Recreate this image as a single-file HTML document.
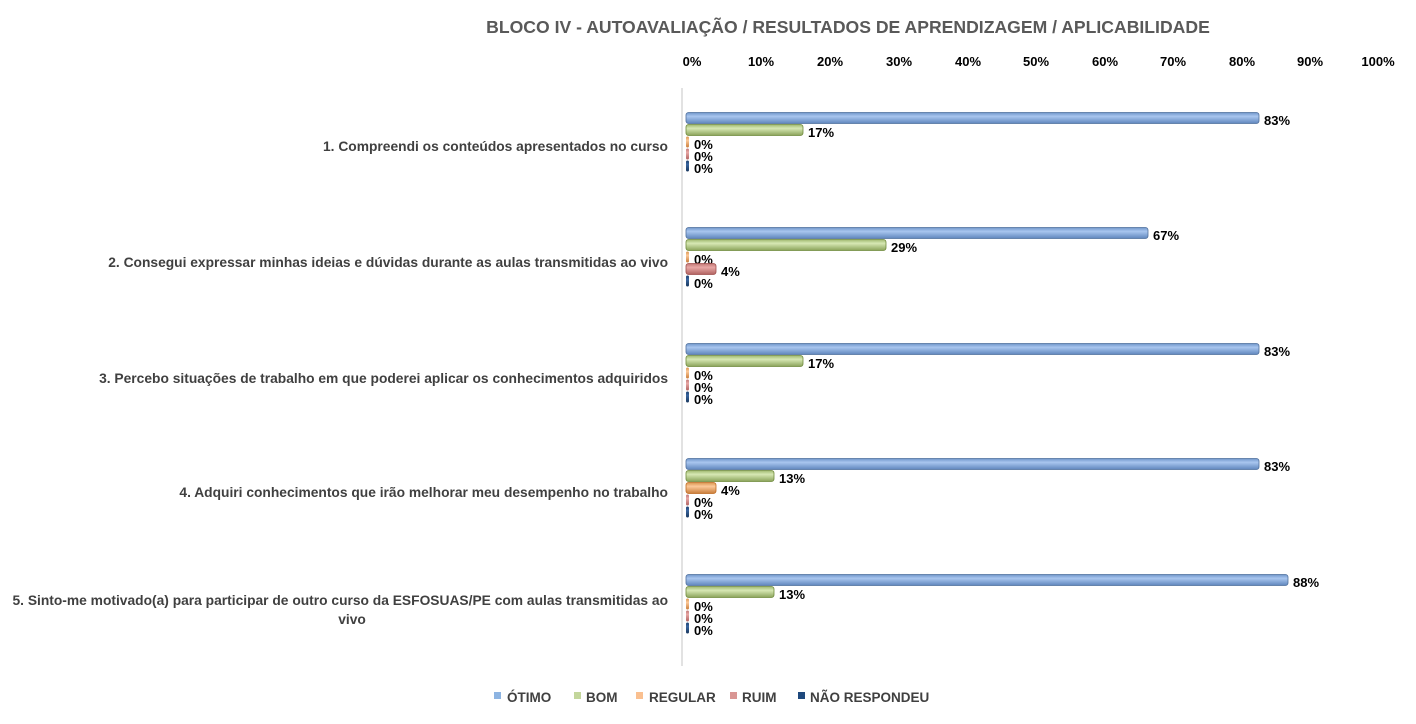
<!DOCTYPE html>
<html><head><meta charset="utf-8"><style>
body{margin:0;background:#fff;}
svg text{font-family:"Liberation Sans",sans-serif;}
</style></head><body>
<svg width="1416" height="719" xmlns="http://www.w3.org/2000/svg">
<defs>
<linearGradient id="gb" x1="0" y1="0" x2="0" y2="1"><stop offset="0" stop-color="#6f95c9"/><stop offset="0.35" stop-color="#a9c6ef"/><stop offset="1" stop-color="#5f86bd"/></linearGradient>
<linearGradient id="gg" x1="0" y1="0" x2="0" y2="1"><stop offset="0" stop-color="#9fb86f"/><stop offset="0.35" stop-color="#d7e8b4"/><stop offset="1" stop-color="#8aa35a"/></linearGradient>
<linearGradient id="go" x1="0" y1="0" x2="0" y2="1"><stop offset="0" stop-color="#d9944f"/><stop offset="0.35" stop-color="#fcc99a"/><stop offset="1" stop-color="#c97d3a"/></linearGradient>
<linearGradient id="gr" x1="0" y1="0" x2="0" y2="1"><stop offset="0" stop-color="#c07674"/><stop offset="0.35" stop-color="#e8a8a6"/><stop offset="1" stop-color="#b06361"/></linearGradient>
<linearGradient id="gd" x1="0" y1="0" x2="0" y2="1"><stop offset="0" stop-color="#1b3f6c"/><stop offset="0.35" stop-color="#3a66a0"/><stop offset="1" stop-color="#17365d"/></linearGradient>
</defs>
<text x="848" y="33" text-anchor="middle" font-size="17.6" font-weight="bold" fill="#595959">BLOCO IV - AUTOAVALIAÇÃO / RESULTADOS DE APRENDIZAGEM / APLICABILIDADE</text>
<g font-size="13" font-weight="bold" fill="#000" text-anchor="middle">
<text x="692" y="66">0%</text><text x="761" y="66">10%</text><text x="830" y="66">20%</text><text x="899" y="66">30%</text><text x="968" y="66">40%</text><text x="1036" y="66">50%</text><text x="1105" y="66">60%</text><text x="1173" y="66">70%</text><text x="1242" y="66">80%</text><text x="1310" y="66">90%</text><text x="1378" y="66">100%</text>
</g>
<line x1="682" y1="88" x2="682" y2="666" stroke="#d9d9d9" stroke-width="1.5"/>
<g font-size="13.8" font-weight="bold" fill="#404040" text-anchor="end">
<text x="668" y="151">1. Compreendi os conteúdos apresentados no curso</text>
<text x="668" y="267">2. Consegui expressar minhas ideias e dúvidas durante as aulas transmitidas ao vivo</text>
<text x="668" y="383">3. Percebo situações de trabalho em que poderei aplicar os conhecimentos adquiridos</text>
<text x="668" y="497">4. Adquiri conhecimentos que irão melhorar meu desempenho no trabalho</text>
<text x="668" y="605">5. Sinto-me motivado(a) para participar de outro curso da ESFOSUAS/PE com aulas transmitidas ao</text>
<text x="352" y="624" text-anchor="middle">vivo</text>
</g>
<g font-size="13" font-weight="bold" fill="#000">
<!-- G1 -->
<g transform="translate(0,118)">
<rect x="686" y="-5.5" width="573" height="11" rx="2.5" fill="url(#gb)" stroke="#4f6f9c" stroke-width="0.8"/><text x="1264" y="7">83%</text>
<rect x="686" y="6.5" width="117" height="11" rx="2.5" fill="url(#gg)" stroke="#6f8a3c" stroke-width="0.8"/><text x="808" y="19">17%</text>
<rect x="686" y="18.5" width="3" height="11" rx="1.5" fill="url(#go)"/><text x="694" y="31">0%</text>
<rect x="686" y="30.5" width="3" height="11" rx="1.5" fill="url(#gr)"/><text x="694" y="43">0%</text>
<rect x="686" y="42.5" width="3" height="11" rx="1.5" fill="url(#gd)"/><text x="694" y="55">0%</text>
</g>
<!-- G2 -->
<g transform="translate(0,233)">
<rect x="686" y="-5.5" width="462" height="11" rx="2.5" fill="url(#gb)" stroke="#4f6f9c" stroke-width="0.8"/><text x="1153" y="7">67%</text>
<rect x="686" y="6.5" width="200" height="11" rx="2.5" fill="url(#gg)" stroke="#6f8a3c" stroke-width="0.8"/><text x="891" y="19">29%</text>
<rect x="686" y="18.5" width="3" height="11" rx="1.5" fill="url(#go)"/><text x="694" y="31">0%</text>
<rect x="686" y="30.5" width="30" height="11" rx="2.5" fill="url(#gr)" stroke="#a04f4d" stroke-width="0.8"/><text x="721" y="43">4%</text>
<rect x="686" y="42.5" width="3" height="11" rx="1.5" fill="url(#gd)"/><text x="694" y="55">0%</text>
</g>
<!-- G3 -->
<g transform="translate(0,349)">
<rect x="686" y="-5.5" width="573" height="11" rx="2.5" fill="url(#gb)" stroke="#4f6f9c" stroke-width="0.8"/><text x="1264" y="7">83%</text>
<rect x="686" y="6.5" width="117" height="11" rx="2.5" fill="url(#gg)" stroke="#6f8a3c" stroke-width="0.8"/><text x="808" y="19">17%</text>
<rect x="686" y="18.5" width="3" height="11" rx="1.5" fill="url(#go)"/><text x="694" y="31">0%</text>
<rect x="686" y="30.5" width="3" height="11" rx="1.5" fill="url(#gr)"/><text x="694" y="43">0%</text>
<rect x="686" y="42.5" width="3" height="11" rx="1.5" fill="url(#gd)"/><text x="694" y="55">0%</text>
</g>
<!-- G4 -->
<g transform="translate(0,464)">
<rect x="686" y="-5.5" width="573" height="11" rx="2.5" fill="url(#gb)" stroke="#4f6f9c" stroke-width="0.8"/><text x="1264" y="7">83%</text>
<rect x="686" y="6.5" width="88" height="11" rx="2.5" fill="url(#gg)" stroke="#6f8a3c" stroke-width="0.8"/><text x="779" y="19">13%</text>
<rect x="686" y="18.5" width="30" height="11" rx="2.5" fill="url(#go)" stroke="#c06a20" stroke-width="0.8"/><text x="721" y="31">4%</text>
<rect x="686" y="30.5" width="3" height="11" rx="1.5" fill="url(#gr)"/><text x="694" y="43">0%</text>
<rect x="686" y="42.5" width="3" height="11" rx="1.5" fill="url(#gd)"/><text x="694" y="55">0%</text>
</g>
<!-- G5 -->
<g transform="translate(0,580)">
<rect x="686" y="-5.5" width="602" height="11" rx="2.5" fill="url(#gb)" stroke="#4f6f9c" stroke-width="0.8"/><text x="1293" y="7">88%</text>
<rect x="686" y="6.5" width="88" height="11" rx="2.5" fill="url(#gg)" stroke="#6f8a3c" stroke-width="0.8"/><text x="779" y="19">13%</text>
<rect x="686" y="18.5" width="3" height="11" rx="1.5" fill="url(#go)"/><text x="694" y="31">0%</text>
<rect x="686" y="30.5" width="3" height="11" rx="1.5" fill="url(#gr)"/><text x="694" y="43">0%</text>
<rect x="686" y="42.5" width="3" height="11" rx="1.5" fill="url(#gd)"/><text x="694" y="55">0%</text>
</g>
</g>
<g font-size="13.5" font-weight="bold" fill="#404040">
<rect x="494" y="692" width="7" height="7" fill="#8db4e2"/><text x="507" y="702">ÓTIMO</text>
<rect x="574" y="692" width="7" height="7" fill="#c3d69b"/><text x="586" y="702">BOM</text>
<rect x="636" y="692" width="7" height="7" fill="#fac090"/><text x="649" y="702">REGULAR</text>
<rect x="730" y="692" width="7" height="7" fill="#d99694"/><text x="742" y="702">RUIM</text>
<rect x="798" y="692" width="7" height="7" fill="#1f497d"/><text x="810" y="702">NÃO RESPONDEU</text>
</g>
</svg>
</body></html>
